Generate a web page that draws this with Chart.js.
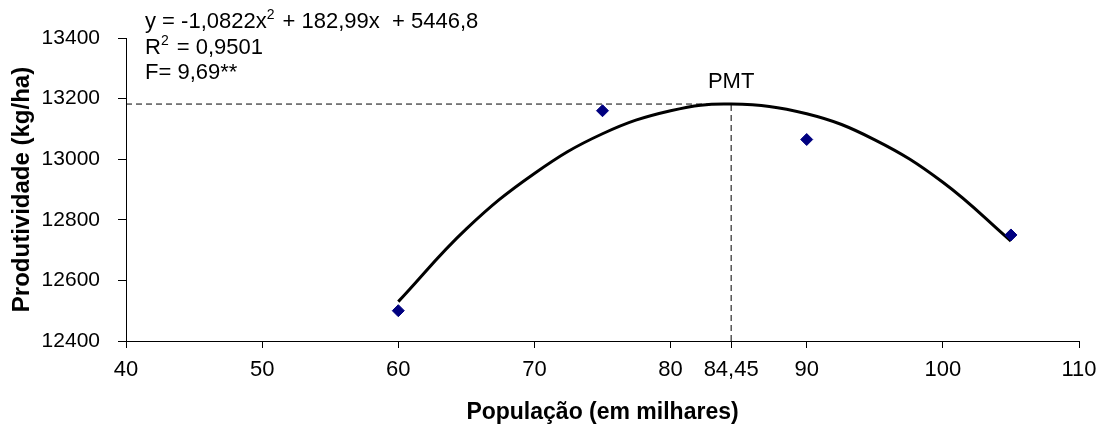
<!DOCTYPE html>
<html>
<head>
<meta charset="utf-8">
<script src="https://cdn.jsdelivr.net/npm/chart.js@4.4.1/dist/chart.umd.min.js"></script>
<style>
  html, body { margin: 0; padding: 0; background: #fff; }
  #wrap { width: 1099px; height: 427px; }
</style>
</head>
<body>
<div id="wrap"><canvas id="grafico" width="1099" height="427"></canvas></div>
<script>
// Dados observados (população em milhares x produtividade kg/ha)
const populacao = [60, 75, 90, 105];
const produtividade = [12500, 13160, 13065, 12750];

// Curva ajustada
const curvaX = [60, 65, 70, 75, 80, 84.45, 90, 95, 100, 105];
const curvaY = [12530, 12770, 12953, 13084, 13160, 13182, 13150, 13064, 12924, 12730];

// Ponto de máxima (PMT)
const pmtX = 84.45;
const pmtY = 13182;

// Marcas dos eixos
const ticksX = [40, 50, 60, 70, 80, 84.45, 90, 100, 110];
const ticksY = [12400, 12600, 12800, 13000, 13200, 13400];

const textosEquacao = ['y = -1,0822x', '2', ' + 182,99x  + 5446,8'];
const textoR2 = ['R', '2', ' = 0,9501'];
const textoF = 'F= 9,69**';

const fonte = '"Liberation Sans", Arial, sans-serif';

// Escreve textos com sobrescrito
function escreverPartes(ctx, partes, x, y) {
    let px = x;
    partes.forEach((p, i) => {
        const sobrescrito = i % 2 === 1;
        ctx.font = (sobrescrito ? '14px ' : '22px ') + fonte;
        ctx.fillText(p, px, sobrescrito ? y - 6 : y);
        px += ctx.measureText(p).width + (sobrescrito ? 2 : 0);
    });
}

const textosPlugin = {
    id: 'textos',
    afterDraw(chart) {
        const ctx = chart.ctx;
        ctx.save();
        ctx.fillStyle = '#000';
        ctx.textBaseline = 'middle';
        ctx.textAlign = 'left';
        escreverPartes(ctx, textosEquacao, 145, 21.5);
        escreverPartes(ctx, textoR2, 145, 47.5);
        ctx.font = '22px ' + fonte;
        ctx.fillText(textoF, 145, 72.5);
        // Rótulo PMT
        ctx.textAlign = 'center';
        ctx.fillText('PMT', chart.scales.x.getPixelForValue(pmtX), chart.scales.y.getPixelForValue(pmtY) - 22);
        ctx.restore();
    }
};

const formatar = v => String(v).replace('.', ',');

new Chart(document.getElementById('grafico'), {
    type: 'scatter',
    data: {
        datasets: [
            {
                label: 'Curva',
                type: 'line',
                data: curvaX.map((x, i) => ({ x: x, y: curvaY[i] })),
                borderColor: '#000',
                borderWidth: 3,
                pointRadius: 0,
                tension: 0.4,
                fill: false,
                order: 2
            },
            {
                label: 'Horizontal',
                type: 'line',
                data: [{ x: 40, y: pmtY }, { x: pmtX, y: pmtY }],
                borderColor: '#000',
                borderWidth: 1,
                borderDash: [6, 4],
                pointRadius: 0,
                order: 3
            },
            {
                label: 'Vertical',
                type: 'line',
                data: [{ x: pmtX, y: 12400 }, { x: pmtX, y: pmtY }],
                borderColor: '#000',
                borderWidth: 1,
                borderDash: [6, 4],
                pointRadius: 0,
                order: 3
            },
            {
                label: 'Observado',
                data: populacao.map((x, i) => ({ x: x, y: produtividade[i] })),
                pointStyle: 'rectRot',
                pointRadius: 6,
                backgroundColor: '#000080',
                borderColor: '#000080',
                order: 1
            }
        ]
    },
    options: {
        responsive: false,
        animation: false,
        layout: { padding: { top: 38, right: 20, left: 0, bottom: 0 } },
        plugins: {
            legend: { display: false },
            tooltip: { enabled: false }
        },
        scales: {
            x: {
                type: 'linear',
                min: 40,
                max: 110,
                afterBuildTicks: scale => { scale.ticks = ticksX.map(v => ({ value: v })); },
                afterFit: scale => {
                    scale.height = 86;
                    scale.paddingLeft = 0;
                    scale.paddingRight = 0;
                },
                grid: { drawOnChartArea: false, drawTicks: true, tickLength: 7, color: '#000' },
                border: { display: true, color: '#000', width: 1 },
                ticks: {
                    color: '#000',
                    font: { family: fonte, size: 22 },
                    padding: 9,
                    maxRotation: 0,
                    autoSkip: false,
                    callback: v => formatar(v)
                },
                title: {
                    display: true,
                    text: 'População (em milhares)',
                    color: '#000',
                    font: { family: fonte, size: 23, weight: 'bold' },
                    padding: { top: 0, bottom: 1 }
                }
            },
            y: {
                min: 12400,
                max: 13400,
                afterBuildTicks: scale => { scale.ticks = ticksY.map(v => ({ value: v })); },
                afterFit: scale => { scale.width = 126; },
                grid: { drawOnChartArea: false, drawTicks: true, tickLength: 8, color: '#000' },
                border: { display: true, color: '#000', width: 1 },
                ticks: {
                    color: '#000',
                    font: { family: fonte, size: 21 },
                    padding: 18,
                    callback: v => String(v)
                },
                title: {
                    display: true,
                    text: 'Produtividade (kg/ha)',
                    color: '#000',
                    font: { family: fonte, size: 24, weight: 'bold' },
                    padding: { top: 8, bottom: 0 }
                }
            }
        }
    },
    plugins: [textosPlugin]
});
</script>
</body>
</html>
